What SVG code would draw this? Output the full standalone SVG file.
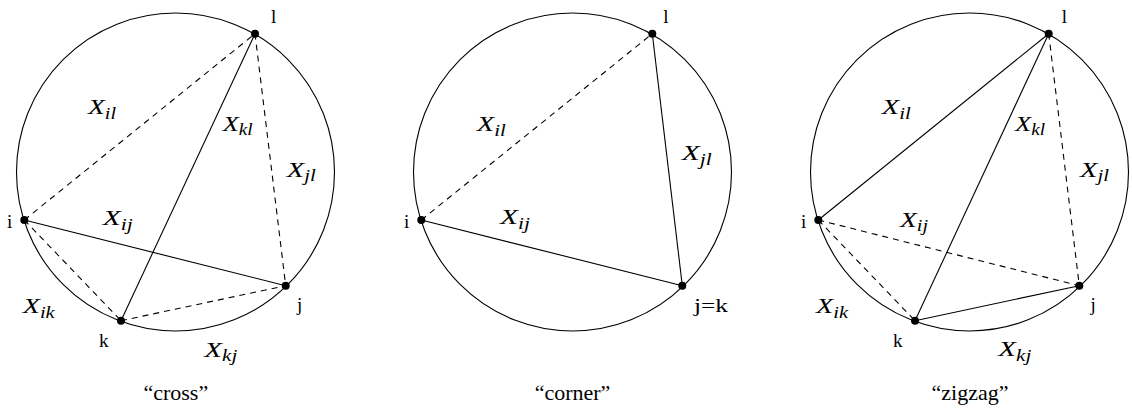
<svg xmlns="http://www.w3.org/2000/svg" width="1132" height="410" viewBox="0 0 1132 410">
<style>
.circ{fill:none;stroke:#000;stroke-width:1.1}
.e{stroke:#000;stroke-width:1.1;fill:none}
.d{stroke-dasharray:6 5}
.dot{fill:#000}
.lab{font-family:"Liberation Serif",serif;font-size:19px;fill:#000}
.cap{font-family:"Liberation Serif",serif;font-size:22px;fill:#000;text-anchor:middle}
.m{font-family:"Liberation Serif",serif;font-style:italic;font-size:22px;fill:#000}
.s{font-size:16px}
</style>
<rect width="1132" height="410" fill="#fff"/>

<!-- cross -->
<g id="cross">
  <circle class="circ" cx="175.5" cy="172" r="159"/>
  <g id="cross-connectors">
    <line class="e d" x1="24.3" y1="220" x2="255" y2="33.7"/>
    <line class="e d" x1="255" y1="33.7" x2="285.7" y2="285.7"/>
    <line class="e d" x1="24.3" y1="220" x2="121" y2="320.7"/>
    <line class="e d" x1="121" y1="320.7" x2="285.7" y2="285.7"/>
    <line class="e" x1="24.3" y1="220" x2="285.7" y2="285.7"/>
    <line class="e" x1="121" y1="320.7" x2="255" y2="33.7"/>
  </g>
  <g id="cross-l"><circle class="dot" cx="255" cy="33.7" r="4"/><text class="lab" x="271" y="23">l</text></g>
  <g id="cross-i"><circle class="dot" cx="24.3" cy="220" r="4"/><text class="lab" x="7" y="227.7">i</text></g>
  <g id="cross-j"><circle class="dot" cx="285.7" cy="285.7" r="4"/><text class="lab" x="297" y="311">j</text></g>
  <g id="cross-k"><circle class="dot" cx="121" cy="320.7" r="4"/><text class="lab" x="99" y="346.7">k</text></g>
  <text class="m" x="88" y="114" textLength="28" lengthAdjust="spacingAndGlyphs">X<tspan class="s" dy="4.5">il</tspan></text>
  <text class="m" x="222.7" y="130.7" textLength="30" lengthAdjust="spacingAndGlyphs">X<tspan class="s" dy="4.5">kl</tspan></text>
  <text class="m" x="286.7" y="176.7" textLength="29" lengthAdjust="spacingAndGlyphs">X<tspan class="s" dy="4.5">jl</tspan></text>
  <text class="m" x="102.7" y="225" textLength="30" lengthAdjust="spacingAndGlyphs">X<tspan class="s" dy="4.5">ij</tspan></text>
  <text class="m" x="22.7" y="313.3" textLength="32" lengthAdjust="spacingAndGlyphs">X<tspan class="s" dy="4.5">ik</tspan></text>
  <text class="m" x="204.3" y="356.5" textLength="33" lengthAdjust="spacingAndGlyphs">X<tspan class="s" dy="4.5">kj</tspan></text>
  <text class="cap" x="175.8" y="400">“cross”</text>
</g>

<!-- corner -->
<g id="corner">
  <circle class="circ" cx="572.5" cy="172" r="159"/>
  <g id="corner-connectors">
    <line class="e d" x1="421.3" y1="220" x2="652.3" y2="33.7"/>
    <line class="e" x1="652.3" y1="33.7" x2="682.3" y2="285.7"/>
    <line class="e" x1="421.3" y1="220" x2="682.3" y2="285.7"/>
  </g>
  <g id="corner-l"><circle class="dot" cx="652.3" cy="33.7" r="4"/><text class="lab" x="663.3" y="23">l</text></g>
  <g id="corner-i"><circle class="dot" cx="421.3" cy="220" r="4"/><text class="lab" x="404" y="227.7">i</text></g>
  <g id="corner-jk"><circle class="dot" cx="682.3" cy="285.7" r="4"/><text class="lab" x="694" y="311.5" font-size="20" textLength="34" lengthAdjust="spacingAndGlyphs">j=k</text></g>
  <text class="m" x="476.7" y="131" textLength="29" lengthAdjust="spacingAndGlyphs">X<tspan class="s" dy="4.5">il</tspan></text>
  <text class="m" x="681.7" y="160" textLength="30" lengthAdjust="spacingAndGlyphs">X<tspan class="s" dy="4.5">jl</tspan></text>
  <text class="m" x="500" y="224" textLength="30" lengthAdjust="spacingAndGlyphs">X<tspan class="s" dy="4.5">ij</tspan></text>
  <text class="cap" x="572.5" y="400">“corner”</text>
</g>

<!-- zigzag -->
<g id="zigzag">
  <circle class="circ" cx="969.5" cy="172" r="159"/>
  <g id="zigzag-connectors">
    <line class="e" x1="818.3" y1="220" x2="1048.7" y2="33.7"/>
    <line class="e" x1="1048.7" y1="33.7" x2="915" y2="320.7"/>
    <line class="e" x1="915" y1="320.7" x2="1079.3" y2="285.7"/>
    <line class="e d" x1="1048.7" y1="33.7" x2="1079.3" y2="285.7"/>
    <line class="e d" x1="818.3" y1="220" x2="1079.3" y2="285.7"/>
    <line class="e d" x1="818.3" y1="220" x2="915" y2="320.7"/>
  </g>
  <g id="zigzag-l"><circle class="dot" cx="1048.7" cy="33.7" r="4"/><text class="lab" x="1061.7" y="23">l</text></g>
  <g id="zigzag-i"><circle class="dot" cx="818.3" cy="220" r="4"/><text class="lab" x="801" y="227.7">i</text></g>
  <g id="zigzag-j"><circle class="dot" cx="1079.3" cy="285.7" r="4"/><text class="lab" x="1090.5" y="311">j</text></g>
  <g id="zigzag-k"><circle class="dot" cx="915" cy="320.7" r="4"/><text class="lab" x="893" y="346.7">k</text></g>
  <text class="m" x="881.7" y="114" textLength="29" lengthAdjust="spacingAndGlyphs">X<tspan class="s" dy="4.5">il</tspan></text>
  <text class="m" x="1015" y="130.7" textLength="30" lengthAdjust="spacingAndGlyphs">X<tspan class="s" dy="4.5">kl</tspan></text>
  <text class="m" x="1080" y="176.7" textLength="29" lengthAdjust="spacingAndGlyphs">X<tspan class="s" dy="4.5">jl</tspan></text>
  <text class="m" x="900" y="226.7" textLength="28" lengthAdjust="spacingAndGlyphs">X<tspan class="s" dy="4.5">ij</tspan></text>
  <text class="m" x="816" y="313.3" textLength="32" lengthAdjust="spacingAndGlyphs">X<tspan class="s" dy="4.5">ik</tspan></text>
  <text class="m" x="998.3" y="356" textLength="33" lengthAdjust="spacingAndGlyphs">X<tspan class="s" dy="4.5">kj</tspan></text>
  <text class="cap" x="970" y="400">“zigzag”</text>
</g>
</svg>
